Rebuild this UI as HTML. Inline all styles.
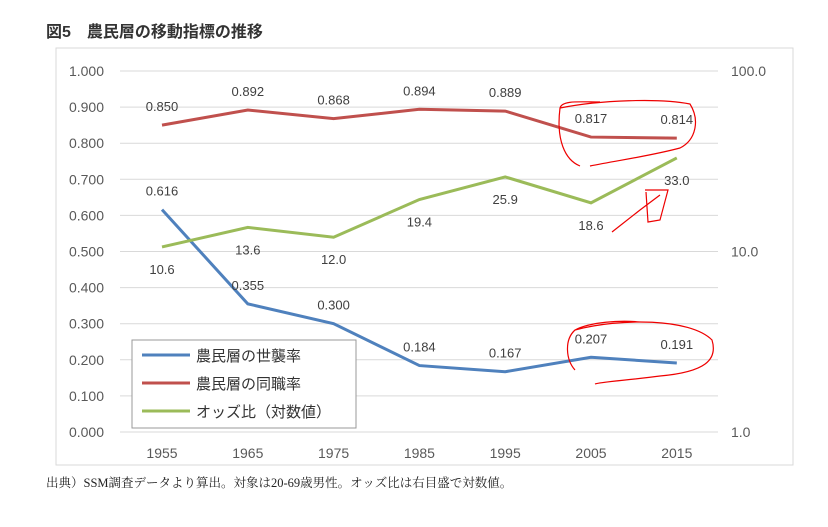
<!DOCTYPE html>
<html><head><meta charset="utf-8"><style>
body{margin:0;background:#fff;width:828px;height:527px;overflow:hidden;}
svg{display:block;}
text{font-family:"Liberation Sans","Noto Sans CJK JP",sans-serif;}
</style></head><body>
<svg id="c" width="828" height="527">
<text x="46" y="37" font-size="16" font-weight="bold" fill="#333">図5　農民層の移動指標の推移</text>
<rect x="56" y="48" width="737" height="417" fill="none" stroke="#d9d9d9"/>
<g id="grid"></g><g id="axes"></g><g id="series"></g>
<g>
<rect x="132" y="340" width="224" height="88" fill="#fff" stroke="#999"/>
<line x1="142" y1="355" x2="190" y2="355" stroke="#4f81bd" stroke-width="3"/>
<text x="196" y="361" font-size="15" fill="#333">農民層の世襲率</text>
<line x1="142" y1="383" x2="190" y2="383" stroke="#c0504d" stroke-width="3"/>
<text x="196" y="389" font-size="15" fill="#333">農民層の同職率</text>
<line x1="142" y1="411" x2="190" y2="411" stroke="#9bbb59" stroke-width="3"/>
<text x="196" y="417" font-size="15" fill="#333">オッズ比（対数値）</text>
</g>
<g fill="none" stroke="#e00" stroke-width="1.2">
<path d="M560 108 C600 100 660 98 690 104 C700 120 696 140 680 148 C650 156 620 160 590 166 M580 166 C565 160 556 140 560 108 C562 100 580 102 600 102"/>
<path d="M645 190 L668 190 L660 220 L648 222 L646 192 M612 232 L640 210 L660 195"/>
<path d="M575 330 C620 318 690 318 712 340 C718 360 705 372 660 376 C630 380 600 382 595 384 M575 370 C566 360 564 340 575 330 C590 322 620 320 640 322"/>
</g>
<text x="46" y="487" font-size="12.5" fill="#222" style="font-family:'Liberation Serif','Noto Serif CJK SC',serif">出典）SSM調査データより算出。対象は20-69歳男性。オッズ比は右目盛で対数値。</text>
</svg>
<script>
const years=["1955","1965","1975","1985","1995","2005","2015"];
const inheritRate=[0.616,0.355,0.300,0.184,0.167,0.207,0.191];
const sameRate=[0.850,0.892,0.868,0.894,0.889,0.817,0.814];
const oddsRatio=[10.6,13.6,12.0,19.4,25.9,18.6,33.0];
const leftTicks=["0.000","0.100","0.200","0.300","0.400","0.500","0.600","0.700","0.800","0.900","1.000"];
const rightTicks=["1.0","10.0","100.0"];
const NS="http://www.w3.org/2000/svg";
const X0=162,XS=85.8,Y0=432,Y1=71;
const xs=i=>X0+i*XS;
const yl=v=>Y0-(Y0-Y1)*v;
const yr=v=>Y0-(Y0-Y1)*Math.log10(v)/2;
function mk(tag,attrs,parent,txt){const e=document.createElementNS(NS,tag);for(const k in attrs)e.setAttribute(k,attrs[k]);if(txt!=null)e.textContent=txt;document.getElementById(parent).appendChild(e);return e;}
leftTicks.forEach(t=>{const y=yl(parseFloat(t));
 const g=mk('line',{x1:120,x2:718,y1:y,y2:y,stroke:'#d9d9d9'},'grid');
 
 
 const l=mk('text',{x:104,y:y+5,'text-anchor':'end','font-size':14,fill:'#595959'},'axes',t);
 
 });
rightTicks.forEach(t=>{const l=mk('text',{x:731,y:yr(parseFloat(t))+5,'font-size':14,fill:'#595959'},'axes',t);
 
 });
years.forEach((t,i)=>{const l=mk('text',{x:xs(i),y:458,'text-anchor':'middle','font-size':14,fill:'#595959'},'axes',t);
 
 });
function series(vals,fy,color,name,dy,fmt){
 const p=mk('polyline',{points:vals.map((v,i)=>xs(i)+','+fy(v)).join(' '),fill:'none',stroke:color,'stroke-width':3},'series');
 
 
 vals.forEach((v,i)=>{const l=mk('text',{x:xs(i),y:fy(v)+dy,'text-anchor':'middle','font-size':13,fill:'#404040'},'series',fmt(v));
  
  });
}
series(sameRate,yl,'#c0504d','same-rate',-14,v=>v.toFixed(3));
series(inheritRate,yl,'#4f81bd','inherit-rate',-14,v=>v.toFixed(3));
series(oddsRatio,yr,'#9bbb59','odds-ratio',27,v=>v.toFixed(1));
</script>
</body></html>
